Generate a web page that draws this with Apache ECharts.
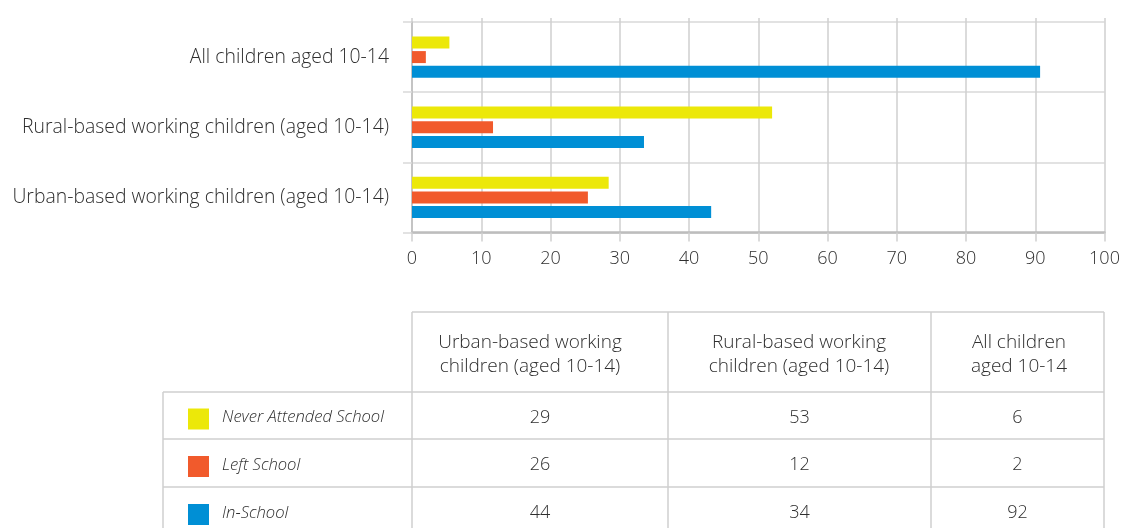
<!DOCTYPE html>
<html>
<head>
<meta charset="utf-8">
<script src="https://cdn.jsdelivr.net/npm/echarts@6/dist/echarts.min.js"></script>
<style>
  html, body { margin: 0; padding: 0; background: #fff; }
  #chart { width: 1126px; height: 528px; }
</style>
</head>
<body>
<div id="chart"></div>
<script>
// ---- data ----
const categories = ['All children aged 10-14', 'Rural-based working children (aged 10-14)', 'Urban-based working children (aged 10-14)'];
const seriesNames = ['Never Attended School', 'Left School', 'In-School'];
const neverAttended = [5.4, 52.0, 28.4];
const leftSchool = [2.0, 11.7, 25.4];
const inSchool = [90.7, 33.5, 43.2];
const tableHeaders = ['Urban-based working\nchildren (aged 10-14)', 'Rural-based working\nchildren (aged 10-14)', 'All children\naged 10-14'];
const tableNever = [29, 53, 6];
const tableLeft = [26, 12, 2];
const tableIn = [44, 34, 92];

// ---- style ----
const colors = ['#ECE809', '#F15A2C', '#008FD5'];
const FONT = '"Open Sans", "Segoe UI", "Noto Sans", sans-serif';
const TXT = '#2e2e2e';
const GRIDC = '#cfcfcf';

const chart = echarts.init(document.getElementById('chart'), null, { renderer: 'canvas' });

// table layout
const colX = [163, 412, 668, 931, 1104];
const rowY = [312, 392, 439, 487, 535];
const graphics = [];
function line(x1, y1, x2, y2) {
  graphics.push({ type: 'line', shape: { x1, y1, x2, y2 }, style: { stroke: GRIDC, lineWidth: 1.5 }, silent: true });
}
line(colX[1], rowY[0], colX[4], rowY[0]);
for (let r = 1; r < rowY.length; r++) line(colX[0], rowY[r], colX[4], rowY[r]);
line(colX[0], rowY[1], colX[0], rowY[4]);
for (let c = 1; c < colX.length; c++) line(colX[c], rowY[0], colX[c], rowY[4]);

const headerCx = [530, 799, 1019];
tableHeaders.forEach((h, i) => {
  graphics.push({ type: 'text', x: headerCx[i], y: 355, style: { text: h, fill: TXT, font: '300 19px ' + FONT, align: 'center', verticalAlign: 'middle', lineHeight: 24 }, silent: true });
});
const tableRows = [tableNever, tableLeft, tableIn];
tableRows.forEach((vals, r) => {
  const cy = (rowY[r + 1] + rowY[r + 2]) / 2 + 1;
  graphics.push({ type: 'rect', shape: { x: 188, y: cy - 8, width: 21, height: 21 }, style: { fill: colors[r] }, silent: true });
  graphics.push({ type: 'text', x: 222, y: cy + 1, style: { text: seriesNames[r], fill: TXT, font: 'italic 300 16.6px ' + FONT, align: 'left', verticalAlign: 'middle' }, silent: true });
  vals.forEach((v, c) => {
    const cx = (colX[c + 1] + colX[c + 2]) / 2;
    graphics.push({ type: 'text', x: cx, y: cy + 1, style: { text: String(v), fill: TXT, font: '300 18px ' + FONT, align: 'center', verticalAlign: 'middle' }, silent: true });
  });
});

const seriesData = [neverAttended, leftSchool, inSchool];
chart.setOption({
  animation: false,
  textStyle: { fontFamily: FONT },
  grid: { left: 412, right: 21.5, top: 22, bottom: 295.5, containLabel: false },
  xAxis: [{
    type: 'value', min: 0, max: 100, interval: 10,
    axisLine: { show: true, lineStyle: { color: '#bdbdbd', width: 2.5 } },
    axisTick: { show: true, length: 9, lineStyle: { color: GRIDC, width: 1.5 } },
    splitLine: { show: true, lineStyle: { color: GRIDC, width: 1.5 } },
    axisLabel: { fontSize: 18, color: TXT, fontWeight: 300, margin: 17, fontFamily: FONT }
  }, {
    type: 'value', position: 'top', min: 0, max: 100, interval: 10,
    axisLine: { show: false },
    axisTick: { show: true, length: 4, lineStyle: { color: GRIDC, width: 1.5 } },
    splitLine: { show: false },
    axisLabel: { show: false }
  }],
  yAxis: {
    type: 'category', inverse: true, data: categories,
    axisLine: { show: true, lineStyle: { color: '#c4c4c4', width: 2 } },
    axisTick: { show: true, length: 9, lineStyle: { color: '#d9d9d9', width: 1.5 } },
    splitLine: { show: true, lineStyle: { color: '#d9d9d9', width: 1.5 } },
    axisLabel: { fontSize: 19.4, color: TXT, fontWeight: 300, margin: 23, fontFamily: FONT }
  },
  series: seriesNames.map((n, i) => ({
    name: n, type: 'bar', data: seriesData[i], barWidth: 12, barGap: '22%',
    itemStyle: { color: colors[i] }, z: 3
  })),
  graphic: graphics
});
</script>
</body>
</html>
